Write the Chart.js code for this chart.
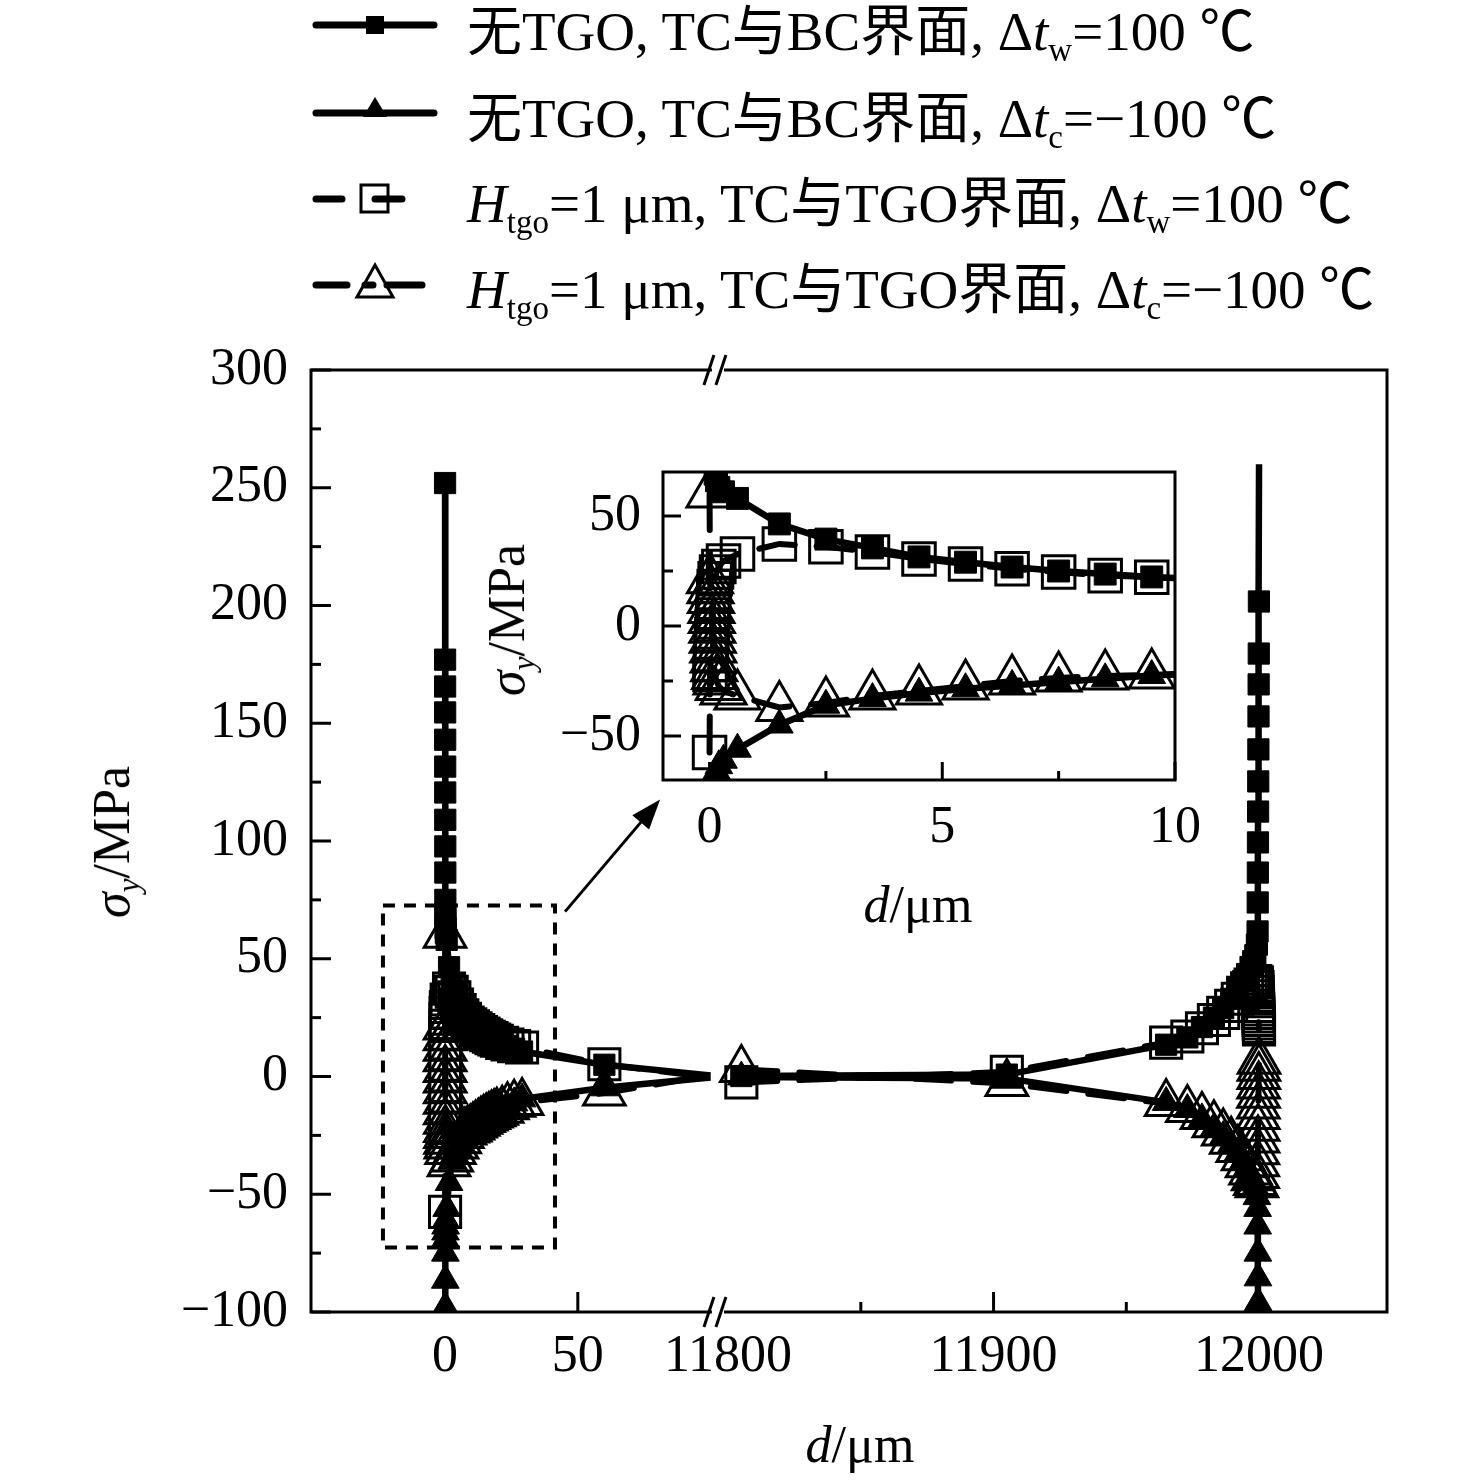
<!DOCTYPE html>
<html lang="zh">
<head>
<meta charset="utf-8">
<title>σy 沿界面分布</title>
<script src="https://cdn.jsdelivr.net/npm/chart.js@4.4.1/dist/chart.umd.min.js"></script>
<style>
  body { margin: 0; background: #fff; }
  #wrap { position: relative; width: 1476px; height: 1480px; overflow: hidden;
          font-family: "Liberation Serif", "Noto Sans CJK SC", serif; color: #000; }
  canvas { position: absolute; }
  #main { left: 0; top: 0; }
  #inset { left: 540px; top: 440px; }
  .key { position: absolute; left: 300px; width: 150px; height: 60px; }
  .lab { position: absolute; left: 467px; height: 60px; line-height: 60px; font-size: 55px; white-space: nowrap; }
  .title { position: absolute; font-size: 52px; white-space: nowrap; line-height: 1; transform: translate(-50%, -50%); }
  .rot { transform: translate(-50%, -50%) rotate(-90deg); }
  sub { font-size: 0.6em; vertical-align: -0.32em; line-height: 0; }
</style>
</head>
<body>
<div id="wrap">
  <canvas id="main" width="1476" height="1480"></canvas>
  <canvas id="inset" width="680" height="430"></canvas>

  <!-- legend -->
  <svg class="key" style="top:-5px" viewBox="300 -5 150 60">
    <line x1="316" y1="25" x2="434" y2="25" stroke="#000" stroke-width="7" stroke-linecap="round"/>
    <rect x="366" y="16" width="18" height="18" fill="#000"/>
  </svg>
  <svg class="key" style="top:83px" viewBox="300 83 150 60">
    <line x1="316" y1="113" x2="434" y2="113" stroke="#000" stroke-width="7" stroke-linecap="round"/>
    <polygon points="375,97 387,117 363,117" fill="#000"/>
  </svg>
  <svg class="key" style="top:169px" viewBox="300 169 150 60">
    <line x1="316" y1="199" x2="342" y2="199" stroke="#000" stroke-width="7" stroke-linecap="round"/>
    <line x1="375" y1="199" x2="402" y2="199" stroke="#000" stroke-width="7" stroke-linecap="round"/>
    <rect x="361" y="185" width="27" height="27" fill="none" stroke="#000" stroke-width="3"/>
  </svg>
  <svg class="key" style="top:255px" viewBox="300 255 150 60">
    <line x1="316" y1="285" x2="347" y2="285" stroke="#000" stroke-width="7" stroke-linecap="round"/>
    <line x1="365" y1="285" x2="373" y2="285" stroke="#000" stroke-width="7" stroke-linecap="round"/>
    <line x1="387" y1="285" x2="422" y2="285" stroke="#000" stroke-width="7" stroke-linecap="round"/>
    <polygon points="375,265 393,297 357,297" fill="none" stroke="#000" stroke-width="3"/>
  </svg>
  <div class="lab" style="top:2px">无TGO, TC与BC界面, Δ<i>t</i><sub>w</sub>=100 ℃</div>
  <div class="lab" style="top:89px">无TGO, TC与BC界面, Δ<i>t</i><sub>c</sub>=−100 ℃</div>
  <div class="lab" style="top:174px"><i>H</i><sub>tgo</sub>=1 μm, TC与TGO界面, Δ<i>t</i><sub>w</sub>=100 ℃</div>
  <div class="lab" style="top:260px"><i>H</i><sub>tgo</sub>=1 μm, TC与TGO界面, Δ<i>t</i><sub>c</sub>=−100 ℃</div>

  <!-- axis titles -->
  <div class="title rot" style="left:112px;top:842px"><i>σ</i><sub><i>y</i></sub>/MPa</div>
  <div class="title" style="left:860px;top:1445px"><i>d</i>/μm</div>
  <div class="title rot" style="left:507px;top:620px"><i>σ</i><sub><i>y</i></sub>/MPa</div>
  <div class="title" style="left:918px;top:905px"><i>d</i>/μm</div>
</div>

<script>
// d/µm near the left end of the interface
var dLeft = [0, 0.01, 0.02, 0.03, 0.04, 0.05, 0.06, 0.07, 0.08, 0.09, 0.10, 0.12, 0.15, 0.2, 0.3,
  0.6, 1.5, 2.5, 3.5, 4.5, 5.5, 6.5, 7.5, 8.5, 9.5,
  10.5, 11.5, 12.5, 13.5, 14.5, 15.5, 16.5, 17.5, 18.5, 19.5,
  21.5, 23.5, 26, 29, 60, 100];
// d/µm near the right end
var dRight = [11805, 11905, 11965, 11973, 11978.5, 11983, 11986.5, 11989.5, 11992, 11994, 11995.5,
  11996.8, 11997.8, 11998.6, 11999.2,
  11999.45, 11999.5, 11999.55, 11999.6, 11999.65, 11999.7, 11999.75, 11999.8, 11999.85, 11999.9, 11999.95, 12000];

// sigma_y / MPa, no TGO, TC/BC interface, dt_w = 100
var sqFillL = [252, 177, 165.6, 154.6, 143, 131.6, 120.6, 109, 97.7, 86.6, 75,
  69, 66, 63, 61,
  58, 46.4, 39.5, 35.5, 31.4, 29, 26.8, 25, 23.6, 22.3,
  21.3, 20.3, 19.4, 18.6, 17.8, 17.1, 16.4, 15.8, 15.2, 14.7,
  13.8, 13, 11.8, 10.6, 5, 0.4];
var sqFillR = [0.2, 0.8, 13.5, 16.6, 21, 25, 29, 33, 37, 40.5, 43.5, 46.5, 49, 51.5, 56,
  61.6, 73.9, 86.6, 99.4, 112.5, 125.3, 138.9, 152.9, 166.5, 179.6, 201.7, 260];

// no TGO, TC/BC interface, dt_c = -100
var triFillL = [-252, -178, -166, -155, -143.5, -132, -121, -109.5, -98, -86.5, -75,
  -69, -66, -63.5, -61,
  -56, -45, -36, -33, -30.5, -28.5, -27, -25.5, -24, -22.5,
  -21.5, -20.5, -19.6, -18.8, -18, -17.3, -16.6, -16, -15.4, -14.8,
  -13.8, -12.8, -11.2, -9.5, -4.8, -0.4];
var triFillR = [-0.2, -0.8, -11, -14, -18, -22, -25.5, -29, -32.5, -36, -39, -42, -44.5, -47, -51,
  -56, -63.5, -75, -85.5, -96, -109, -122, -135, -149, -163, -185, -256];

// H_tgo = 1 µm, TC/TGO interface, dt_w = 100
var sqOpenL = [-57.5, -22, -17.5, -13, -8.5, -4, 0.5, 5, 9.5, 14, 18,
  21.5, 24.5, 27, 29.5,
  32.7, 37.3, 36, 33.6, 30.5, 28.2, 26, 24.5, 22.9, 22.2,
  21.3, 20.5, 19.7, 18.9, 18.2, 17.5, 16.9, 16.3, 15.7, 15.2,
  14.3, 13.6, 12.9, 12.3, 5.2, -0.5];
var sqOpenR = [-2.5, 2, 14.4, 17, 20.5, 24, 27, 30, 33, 35.5, 37.5, 39, 40, 40.5, 40,
  38, 36, 34, 32, 30, 28.5, 27, 25.5, 24, 22.5, 21, 20];

// H_tgo = 1 µm, TC/TGO interface, dt_c = -100
var triOpenL = [60, 21, 16.5, 12, 7.5, 3, -1.5, -6, -10.5, -15, -19,
  -22.5, -25, -27.5, -29.5,
  -31.8, -37, -35, -31.8, -29.5, -27.3, -25, -23.6, -22.7, -22.3,
  -21.4, -20.6, -19.8, -19, -18.3, -17.6, -17, -16.4, -15.8, -15.2,
  -14.3, -12.8, -11.8, -11, -7, 0.5];
var triOpenR = [3, -3, -11.5, -14, -17, -20.5, -24, -27.5, -31, -34.5, -37.5, -40.5, -43, -45, -46,
  -42, -37, -32, -27, -22, -17, -12.5, -8, -4, 0, 3.5, 6.5];

var yTicksMain = [-100, -50, 0, 50, 100, 150, 200, 250, 300];
var xTicksMain = [0, 50, 11800, 11900, 12000];
var xMinorMain = [11850, 11950];
var xTicksInset = [0, 5, 10];
var yTicksInset = [-50, 0, 50];

// broken x axis: left part kept as is, right part shifted next to it
var BREAK = 100.9;
var SHIFT = 11693.4;
function toX(d){ return d < 1000 ? d : d - SHIFT; }
function fromX(x){ return x < BREAK ? x : x + SHIFT; }

var FONT = "'Liberation Serif', 'Times New Roman', serif";
function minus(v){ return v < 0 ? '\u2212' + Math.abs(v) : '' + v; }

function mainPoints(dl, vl, dr, vr, bare){
	var pts = [];
	for(var i = 0; i < dl.length; i++){
		pts.push({x: toX(dl[i]), y: vl[i], bare: bare.indexOf(dl[i]) >= 0});
	}
	pts.push({x: BREAK, y: null});
	for(var j = 0; j < dr.length; j++){
		pts.push({x: toX(dr[j]), y: vr[j], bare: bare.indexOf(dr[j]) >= 0});
	}
	return pts;
}
function insetPoints(dl, vl){
	return dl.map(function(d, i){ return {x: d, y: vl[i]}; });
}
function radius(r){
	return function(c){ return (c.raw && c.raw.bare) ? 0 : r; };
}

function makeSet(pts, kind, r){
	var open = kind.indexOf('open') >= 0;
	return {
		data: pts,
		borderColor: '#000',
		borderWidth: open ? 6 : 6.5,
		borderDash: open ? [36, 22] : [],
		borderCapStyle: open ? 'round' : 'butt',
		pointStyle: kind.indexOf('tri') >= 0 ? 'triangle' : 'rect',
		pointRadius: radius(r),
		pointBackgroundColor: open ? 'rgba(0,0,0,0)' : '#000',
		pointBorderColor: '#000',
		pointBorderWidth: open ? 3 : 1,
		tension: 0,
		clip: 0
	};
}

function seg(ctx, x1, y1, x2, y2){
	ctx.beginPath(); ctx.moveTo(x1, y1); ctx.lineTo(x2, y2); ctx.stroke();
}

// keep the plot box exactly where the layout padding puts it
function fitY(w){
	return function(s){ s.width = w; s.paddingTop = 0; s.paddingBottom = 0; };
}
function fitX(h){
	return function(s){ s.height = h; s.paddingLeft = 0; s.paddingRight = 0; };
}

var mainDecor = {
	id: 'mainDecor',
	afterDraw: function(chart){
		var ctx = chart.ctx, a = chart.chartArea, x = chart.scales.x, y = chart.scales.y;
		ctx.save();
		ctx.strokeStyle = '#000';
		ctx.lineWidth = 3;
		for(var v = -100; v <= 300; v += 25){
			var py = y.getPixelForValue(v);
			seg(ctx, a.left, py, a.left + (v % 50 === 0 ? 20 : 10), py);
		}
		xTicksMain.forEach(function(d){
			if(d === 11800) return;
			var px = x.getPixelForValue(toX(d));
			seg(ctx, px, a.bottom, px, a.bottom - 20);
		});
		xMinorMain.forEach(function(d){
			var px = x.getPixelForValue(toX(d));
			seg(ctx, px, a.bottom, px, a.bottom - 10);
		});
		ctx.strokeRect(a.left, a.top, a.right - a.left, a.bottom - a.top);

		// axis break marks
		var bx = x.getPixelForValue(BREAK);
		[a.top, a.bottom].forEach(function(by){
			ctx.fillStyle = '#fff';
			ctx.fillRect(bx - 1, by - 3, 12, 6);
			seg(ctx, bx - 9, by + 15, bx + 1, by - 15);
			seg(ctx, bx + 3, by + 15, bx + 13, by - 15);
		});

		// dotted zoom box
		ctx.setLineDash([12, 9]);
		ctx.lineWidth = 4;
		var rx1 = x.getPixelForValue(-23.4), rx2 = x.getPixelForValue(41.4);
		var ry1 = y.getPixelForValue(72.6), ry2 = y.getPixelForValue(-72.6);
		ctx.strokeRect(rx1, ry1, rx2 - rx1, ry2 - ry1);
		ctx.setLineDash([]);

		// arrow to the inset
		var ax1 = x.getPixelForValue(45.2), ay1 = y.getPixelForValue(70);
		var ax2 = x.getPixelForValue(81), ay2 = y.getPixelForValue(117.6);
		var ang = Math.atan2(ay2 - ay1, ax2 - ax1);
		ctx.lineWidth = 3;
		seg(ctx, ax1, ay1, ax2 - 25 * Math.cos(ang), ay2 - 25 * Math.sin(ang));
		ctx.fillStyle = '#000';
		ctx.beginPath();
		ctx.moveTo(ax2, ay2);
		ctx.lineTo(ax2 - 30 * Math.cos(ang) + 11 * Math.sin(ang), ay2 - 30 * Math.sin(ang) - 11 * Math.cos(ang));
		ctx.lineTo(ax2 - 30 * Math.cos(ang) - 11 * Math.sin(ang), ay2 - 30 * Math.sin(ang) + 11 * Math.cos(ang));
		ctx.closePath();
		ctx.fill();
		ctx.restore();
	}
};

var insetDecor = {
	id: 'insetDecor',
	beforeDraw: function(chart){
		var ctx = chart.ctx, a = chart.chartArea;
		ctx.save();
		ctx.fillStyle = '#fff';
		ctx.fillRect(a.left, a.top, a.right - a.left, a.bottom - a.top);
		ctx.restore();
	},
	afterDraw: function(chart){
		var ctx = chart.ctx, a = chart.chartArea, x = chart.scales.x, y = chart.scales.y;
		ctx.save();
		ctx.strokeStyle = '#000';
		ctx.lineWidth = 3;
		for(var v = -50; v <= 50; v += 25){
			var py = y.getPixelForValue(v);
			seg(ctx, a.left, py, a.left + (v % 50 === 0 ? 18 : 10), py);
		}
		for(var d = 0; d <= 10; d += 2.5){
			var px = x.getPixelForValue(d);
			seg(ctx, px, a.bottom, px, a.bottom - (d % 5 === 0 ? 18 : 9));
		}
		ctx.strokeRect(a.left, a.top, a.right - a.left, a.bottom - a.top);
		ctx.restore();
	}
};

var tickFont = {family: FONT, size: 52};

new Chart(document.getElementById('main').getContext('2d'), {
	type: 'line',
	data: {
		datasets: [
			makeSet(mainPoints(dLeft, sqFillL, dRight, sqFillR, [100, 12000]), 'fill-sq', 15),
			makeSet(mainPoints(dLeft, triFillL, dRight, triFillR, [100]), 'fill-tri', 16),
			makeSet(mainPoints(dLeft, sqOpenL, dRight, sqOpenR, [100]), 'open-sq', 22),
			makeSet(mainPoints(dLeft, triOpenL, dRight, triOpenR, [100]), 'open-tri', 24)
		]
	},
	options: {
		responsive: false,
		animation: false,
		events: [],
		layout: {padding: {top: 370, right: 89, left: 0, bottom: 0}},
		plugins: {legend: {display: false}, tooltip: {enabled: false}},
		scales: {
			x: {
				type: 'linear',
				min: -50.5,
				max: 354.8,
				afterBuildTicks: function(s){ s.ticks = xTicksMain.map(function(d){ return {value: toX(d)}; }); },
				afterFit: fitX(168),
				ticks: {
					autoSkip: false, maxRotation: 0, font: tickFont, color: '#000', padding: 14,
					callback: function(v){ return '' + Math.round(fromX(v)); }
				},
				grid: {display: false, drawTicks: false},
				border: {display: false}
			},
			y: {
				min: -100,
				max: 300,
				afterBuildTicks: function(s){ s.ticks = yTicksMain.map(function(v){ return {value: v}; }); },
				afterFit: fitY(311),
				ticks: {font: tickFont, color: '#000', padding: 23, callback: minus},
				grid: {display: false, drawTicks: false},
				border: {display: false}
			}
		}
	},
	plugins: [mainDecor]
});

new Chart(document.getElementById('inset').getContext('2d'), {
	type: 'line',
	data: {
		datasets: [
			makeSet(insetPoints(dLeft, sqFillL), 'fill-sq', 15.5),
			makeSet(insetPoints(dLeft, triFillL), 'fill-tri', 16),
			makeSet(insetPoints(dLeft, sqOpenL), 'open-sq', 23),
			makeSet(insetPoints(dLeft, triOpenL), 'open-tri', 26)
		]
	},
	options: {
		responsive: false,
		animation: false,
		events: [],
		layout: {padding: {top: 32, right: 45, left: 0, bottom: 0}},
		plugins: {legend: {display: false}, tooltip: {enabled: false}},
		scales: {
			x: {
				type: 'linear',
				min: -1,
				max: 10,
				afterBuildTicks: function(s){ s.ticks = xTicksInset.map(function(v){ return {value: v}; }); },
				afterFit: fitX(90),
				ticks: {autoSkip: false, maxRotation: 0, font: tickFont, color: '#000', padding: 17},
				grid: {display: false, drawTicks: false},
				border: {display: false}
			},
			y: {
				min: -70,
				max: 70,
				afterBuildTicks: function(s){ s.ticks = yTicksInset.map(function(v){ return {value: v}; }); },
				afterFit: fitY(123),
				ticks: {font: tickFont, color: '#000', padding: 22, callback: minus},
				grid: {display: false, drawTicks: false},
				border: {display: false}
			}
		}
	},
	plugins: [insetDecor]
});
</script>
</body>
</html>
